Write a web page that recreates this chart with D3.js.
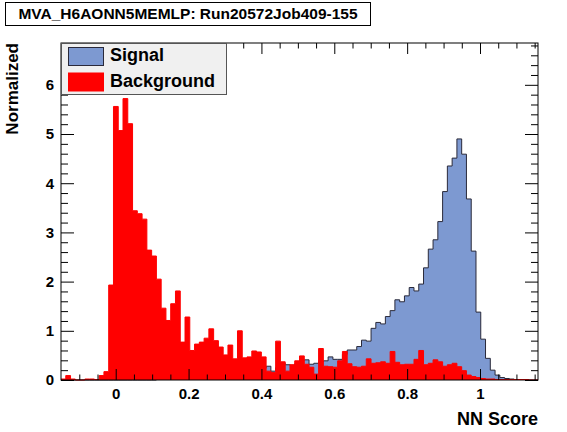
<!DOCTYPE html>
<html><head><meta charset="utf-8">
<script src="https://cdn.jsdelivr.net/npm/d3@7"></script>
<style>
html,body{margin:0;padding:0;background:#fff;}
svg text{font-family:"Liberation Sans",Arial,Helvetica,sans-serif;font-weight:bold;fill:#000;}
</style></head><body>
<svg id="c" width="567" height="432"></svg>
<script>
// ---- data ----
const title = "MVA_H6AONN5MEMLP: Run20572Job409-155";
const xTitle = "NN Score";
const yTitle = "Normalized";
const seriesNames = ["Signal", "Background"];
const xMin = -0.1502, xMax = 1.1592, nBins = 100;
const yMax = 6.85;
const xTickLabels = ["0", "0.2", "0.4", "0.6", "0.8", "1"];
const xTickValues = [0, 0.2, 0.4, 0.6, 0.8, 1];
const yTickValues = [0, 1, 2, 3, 4, 5, 6];
const signal = [
 0,0,0,0,0,0,0,0,0,0,
 0,0,0,0,0,0,0,0,0,0,
 0.01,0.01,0.02,0.02,0.03,0.03,0.04,0.04,0.05,0.05,
 0.06,0.07,0.08,0.09,0.10,0.11,0.12,0.13,0.15,0.17,
 0.19,0.21,0.24,0.28,0.18,0.25,0.34,0.31,0.30,0.33,
 0.40,0.41,0.32,0.34,0.37,0.39,0.47,0.42,0.42,0.52,
 0.61,0.61,0.68,0.81,0.79,1.05,1.17,1.14,1.29,1.41,
 1.63,1.59,1.71,1.88,1.81,1.95,2.28,2.66,2.85,3.22,
 3.83,4.35,4.51,4.90,4.59,3.68,2.62,1.38,0.83,0.44,
 0.20,0.10,0.05,0.03,0.02,0.01,0.01,0.01,0,0
];
const background = [
 0.02,0.09,0.02,0,0,0.02,0.02,0.01,0.09,0.17,
 1.93,5.56,5.07,5.72,5.21,3.44,3.38,3.27,2.64,2.52,
 2.05,1.46,1.21,1.55,1.81,0.77,1.28,0.60,0.73,0.77,
 0.85,1.04,0.80,0.67,0.51,0.71,0.43,1.00,0.45,0.47,
 0.59,0.57,0.47,0.18,0.15,0.79,0.37,0.18,0.31,0.39,
 0.49,0.32,0.26,0.12,0.64,0.28,0.27,0.26,0.39,0.58,
 0.33,0.27,0.26,0.28,0.43,0.34,0.35,0.37,0.34,0.58,
 0.36,0.31,0.32,0.32,0.42,0.60,0.31,0.34,0.41,0.37,
 0.28,0.31,0.34,0.27,0.19,0.10,0.07,0.05,0.03,0.02,
 0.02,0.01,0.01,0.01,0.01,0.01,0.01,0.01,0,0
];

// ---- layout ----
const svg = d3.select("#c");
const L = 61, R = 538, T = 43, B = 380;
const x = d3.scaleLinear().domain([xMin, xMax]).range([L, R]);
const y = d3.scaleLinear().domain([0, yMax]).range([B, T]);
const bw = (xMax - xMin) / nBins;

function stepData(vals){
  const d = vals.map((v,i)=>({x: xMin + i*bw, v}));
  d.push({x: xMax, v: vals[vals.length-1]});
  return d;
}
const area = d3.area().curve(d3.curveStepAfter).x(d=>x(d.x)).y0(y(0)).y1(d=>y(d.v));
const line = d3.line().curve(d3.curveStepAfter).x(d=>x(d.x)).y(d=>y(d.v));

const sigCol = "#7d99d1", sigLine = "#2a2a3a", bkgCol = "#ff0000";

const sd = stepData(signal), bd = stepData(background);
svg.append("path").attr("d", area(sd)).attr("fill", sigCol);
svg.append("path").attr("d", line(sd)).attr("fill","none").attr("stroke", sigLine).attr("stroke-width",1);
svg.append("path").attr("d", area(bd)).attr("fill", bkgCol);
svg.append("path").attr("d", line(bd)).attr("fill","none").attr("stroke", bkgCol).attr("stroke-width",1);

// frame
svg.append("rect").attr("x",L).attr("y",T).attr("width",R-L).attr("height",B-T)
  .attr("fill","none").attr("stroke","#000").attr("stroke-width",1);

// axes
const xMinor = d3.range(-0.1, 1.1501, 0.05).map(v=>+v.toFixed(2)).filter(v=>!xTickValues.some(t=>Math.abs(t-v)<1e-6));
const yMinor = d3.range(0, 6.81, 0.2).map(v=>+v.toFixed(2)).filter(v=>!yTickValues.some(t=>Math.abs(t-v)<1e-6));

function styleAxis(g){ g.select(".domain").remove(); g.selectAll("line").attr("stroke","#000"); g.selectAll("text").attr("font-size",null); }

// bottom
svg.append("g").attr("transform",`translate(0,${B})`)
  .call(d3.axisBottom(x).tickValues(xTickValues).tickFormat((d,i)=>xTickLabels[i]).tickSizeInner(-11).tickSizeOuter(0).tickPadding(8))
  .call(styleAxis).call(g=>g.selectAll("text").style("font-size","15px"));
svg.append("g").attr("transform",`translate(0,${B})`)
  .call(d3.axisBottom(x).tickValues(xMinor).tickFormat("").tickSizeInner(-5.5).tickSizeOuter(0)).call(styleAxis);
// top
svg.append("g").attr("transform",`translate(0,${T})`)
  .call(d3.axisTop(x).tickValues(xTickValues).tickFormat("").tickSizeInner(-11).tickSizeOuter(0)).call(styleAxis);
svg.append("g").attr("transform",`translate(0,${T})`)
  .call(d3.axisTop(x).tickValues(xMinor).tickFormat("").tickSizeInner(-5.5).tickSizeOuter(0)).call(styleAxis);
// left
svg.append("g").attr("transform",`translate(${L},0)`)
  .call(d3.axisLeft(y).tickValues(yTickValues).tickFormat(d3.format("d")).tickSizeInner(-13).tickSizeOuter(0).tickPadding(7))
  .call(styleAxis).call(g=>g.selectAll("text").style("font-size","15px"));
svg.append("g").attr("transform",`translate(${L},0)`)
  .call(d3.axisLeft(y).tickValues(yMinor).tickFormat("").tickSizeInner(-7).tickSizeOuter(0)).call(styleAxis);
// right
svg.append("g").attr("transform",`translate(${R},0)`)
  .call(d3.axisRight(y).tickValues(yTickValues).tickFormat("").tickSizeInner(-13).tickSizeOuter(0)).call(styleAxis);
svg.append("g").attr("transform",`translate(${R},0)`)
  .call(d3.axisRight(y).tickValues(yMinor).tickFormat("").tickSizeInner(-7).tickSizeOuter(0)).call(styleAxis);

// axis titles
svg.append("text").attr("x",R).attr("y",425).attr("text-anchor","end").style("font-size","18px").text(xTitle);
svg.append("text").attr("transform",`translate(18,${T}) rotate(-90)`).attr("text-anchor","end").style("font-size","17px").text(yTitle);

// title box
svg.append("rect").attr("x",5.5).attr("y",2.5).attr("width",365).attr("height",23).attr("fill","#fff").attr("stroke","#000");
svg.append("text").attr("x",188).attr("y",19).attr("text-anchor","middle").style("font-size","15.5px").text(title);

// legend
const lg = svg.append("g");
lg.append("rect").attr("x",61.5).attr("y",43.5).attr("width",165).attr("height",51).attr("fill","#f0f0f0").attr("stroke","#555");
const cols = [sigCol, bkgCol], strokes = [sigLine, bkgCol];
seriesNames.forEach((n,i)=>{
  lg.append("rect").attr("x",68.5).attr("y",47.5+i*25.5).attr("width",35).attr("height",18)
    .attr("fill",cols[i]).attr("stroke",strokes[i]);
  lg.append("text").attr("x",110).attr("y",61+i*25.5).style("font-size","18px").text(n);
});
</script></body></html>
